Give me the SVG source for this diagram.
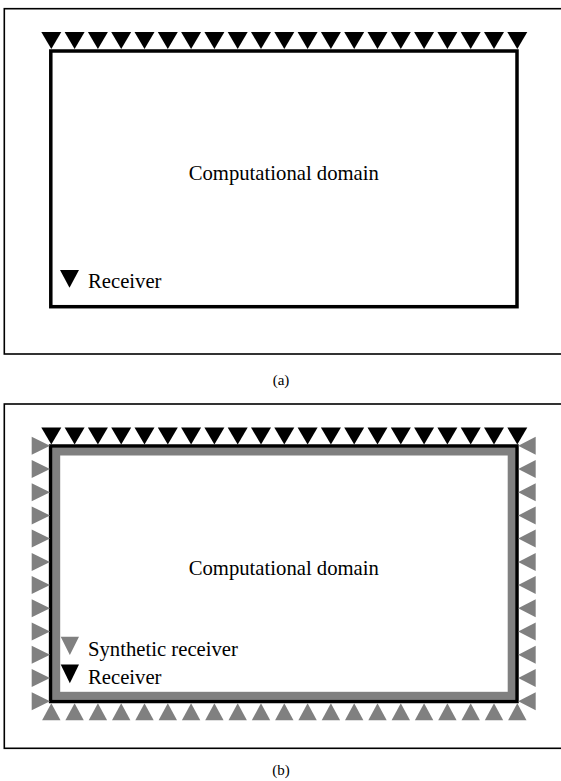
<svg xmlns="http://www.w3.org/2000/svg" xmlns:xlink="http://www.w3.org/1999/xlink" width="561" height="781" viewBox="0 0 561 781">
<style>
.frame{fill:none;stroke:#000;stroke-width:1.6}
.domain{fill:none;stroke:#000;stroke-width:3.5}
.band{fill:none;stroke:#808080;stroke-width:8}
.t{font-family:"Liberation Serif","Times New Roman",serif;font-size:20.7px;fill:#000}
.cap{font-family:"Liberation Serif","Times New Roman",serif;font-size:15px;fill:#000;text-anchor:middle}
</style>
<defs>
<polygon id="rd" points="-10,0 10,0 0,17" fill="#000"/>
<polygon id="su" points="0,0 -9.2,17 9.2,17" fill="#808080"/>
<polygon id="sr" points="0,0 -18.3,-9 -18.3,9" fill="#808080"/>
<polygon id="sl" points="0,0 17.5,-9 17.5,9" fill="#808080"/>
</defs>
<rect width="561" height="781" fill="#fff"/>

<g id="panel-a">
<rect class="frame" x="4.3" y="8.7" width="560" height="345.3"/>
<g id="domain-a">
<rect class="domain" x="50.8" y="51" width="466.2" height="255.7"/>
<text class="t" x="283.8" y="180" text-anchor="middle">Computational domain</text>
</g>
<g id="receivers-a">
<use xlink:href="#rd" x="51.3" y="32"/><use xlink:href="#rd" x="74.6" y="32"/><use xlink:href="#rd" x="97.9" y="32"/><use xlink:href="#rd" x="121.2" y="32"/><use xlink:href="#rd" x="144.5" y="32"/><use xlink:href="#rd" x="167.8" y="32"/><use xlink:href="#rd" x="191.1" y="32"/><use xlink:href="#rd" x="214.4" y="32"/><use xlink:href="#rd" x="237.7" y="32"/><use xlink:href="#rd" x="261" y="32"/><use xlink:href="#rd" x="284.3" y="32"/><use xlink:href="#rd" x="307.6" y="32"/><use xlink:href="#rd" x="330.9" y="32"/><use xlink:href="#rd" x="354.2" y="32"/><use xlink:href="#rd" x="377.5" y="32"/><use xlink:href="#rd" x="400.8" y="32"/><use xlink:href="#rd" x="424.1" y="32"/><use xlink:href="#rd" x="447.4" y="32"/><use xlink:href="#rd" x="470.7" y="32"/><use xlink:href="#rd" x="494" y="32"/><use xlink:href="#rd" x="517.3" y="32"/>
</g>
<g id="legend-a">
<polygon points="60,270 79,270 69.5,287.7" fill="#000"/>
<text class="t" x="88" y="288">Receiver</text>
</g>
<text id="caption-a" class="cap" x="281" y="384.5">(a)</text>
</g>

<g id="panel-b">
<rect class="frame" x="4.3" y="404" width="560" height="344.3"/>
<g id="domain-b">
<rect class="band" x="56.2" y="451.5" width="455.5" height="244.3"/>
<rect class="domain" x="50.6" y="446" width="466.4" height="255.5"/>
<text class="t" x="283.8" y="575" text-anchor="middle">Computational domain</text>
</g>
<g id="receivers-b">
<use xlink:href="#rd" x="51.3" y="427.5"/><use xlink:href="#rd" x="74.6" y="427.5"/><use xlink:href="#rd" x="97.9" y="427.5"/><use xlink:href="#rd" x="121.2" y="427.5"/><use xlink:href="#rd" x="144.5" y="427.5"/><use xlink:href="#rd" x="167.8" y="427.5"/><use xlink:href="#rd" x="191.1" y="427.5"/><use xlink:href="#rd" x="214.4" y="427.5"/><use xlink:href="#rd" x="237.7" y="427.5"/><use xlink:href="#rd" x="261" y="427.5"/><use xlink:href="#rd" x="284.3" y="427.5"/><use xlink:href="#rd" x="307.6" y="427.5"/><use xlink:href="#rd" x="330.9" y="427.5"/><use xlink:href="#rd" x="354.2" y="427.5"/><use xlink:href="#rd" x="377.5" y="427.5"/><use xlink:href="#rd" x="400.8" y="427.5"/><use xlink:href="#rd" x="424.1" y="427.5"/><use xlink:href="#rd" x="447.4" y="427.5"/><use xlink:href="#rd" x="470.7" y="427.5"/><use xlink:href="#rd" x="494" y="427.5"/><use xlink:href="#rd" x="517.3" y="427.5"/>
</g>
<g id="synthetic-bottom">
<use xlink:href="#su" x="51.3" y="703.2"/><use xlink:href="#su" x="74.6" y="703.2"/><use xlink:href="#su" x="97.9" y="703.2"/><use xlink:href="#su" x="121.2" y="703.2"/><use xlink:href="#su" x="144.5" y="703.2"/><use xlink:href="#su" x="167.8" y="703.2"/><use xlink:href="#su" x="191.1" y="703.2"/><use xlink:href="#su" x="214.4" y="703.2"/><use xlink:href="#su" x="237.7" y="703.2"/><use xlink:href="#su" x="261" y="703.2"/><use xlink:href="#su" x="284.3" y="703.2"/><use xlink:href="#su" x="307.6" y="703.2"/><use xlink:href="#su" x="330.9" y="703.2"/><use xlink:href="#su" x="354.2" y="703.2"/><use xlink:href="#su" x="377.5" y="703.2"/><use xlink:href="#su" x="400.8" y="703.2"/><use xlink:href="#su" x="424.1" y="703.2"/><use xlink:href="#su" x="447.4" y="703.2"/><use xlink:href="#su" x="470.7" y="703.2"/><use xlink:href="#su" x="494" y="703.2"/><use xlink:href="#su" x="517.3" y="703.2"/>
</g>
<g id="synthetic-left">
<use xlink:href="#sr" x="50" y="445.7"/><use xlink:href="#sr" x="50" y="468.9"/><use xlink:href="#sr" x="50" y="492.2"/><use xlink:href="#sr" x="50" y="515.4"/><use xlink:href="#sr" x="50" y="538.6"/><use xlink:href="#sr" x="50" y="561.9"/><use xlink:href="#sr" x="50" y="585.1"/><use xlink:href="#sr" x="50" y="608.3"/><use xlink:href="#sr" x="50" y="631.5"/><use xlink:href="#sr" x="50" y="654.8"/><use xlink:href="#sr" x="50" y="678"/><use xlink:href="#sr" x="50" y="701.2"/>
</g>
<g id="synthetic-right">
<use xlink:href="#sl" x="518.2" y="445.7"/><use xlink:href="#sl" x="518.2" y="468.9"/><use xlink:href="#sl" x="518.2" y="492.2"/><use xlink:href="#sl" x="518.2" y="515.4"/><use xlink:href="#sl" x="518.2" y="538.6"/><use xlink:href="#sl" x="518.2" y="561.9"/><use xlink:href="#sl" x="518.2" y="585.1"/><use xlink:href="#sl" x="518.2" y="608.3"/><use xlink:href="#sl" x="518.2" y="631.5"/><use xlink:href="#sl" x="518.2" y="654.8"/><use xlink:href="#sl" x="518.2" y="678"/><use xlink:href="#sl" x="518.2" y="701.2"/>
</g>
<g id="legend-b">
<polygon points="60.7,636.7 79,636.7 69.85,655" fill="#808080"/>
<text class="t" x="88" y="656">Synthetic receiver</text>
<polygon points="60.7,664.5 79,664.5 69.85,683.3" fill="#000"/>
<text class="t" x="88" y="683.5">Receiver</text>
</g>
<text id="caption-b" class="cap" x="281" y="775">(b)</text>
</g>
</svg>
